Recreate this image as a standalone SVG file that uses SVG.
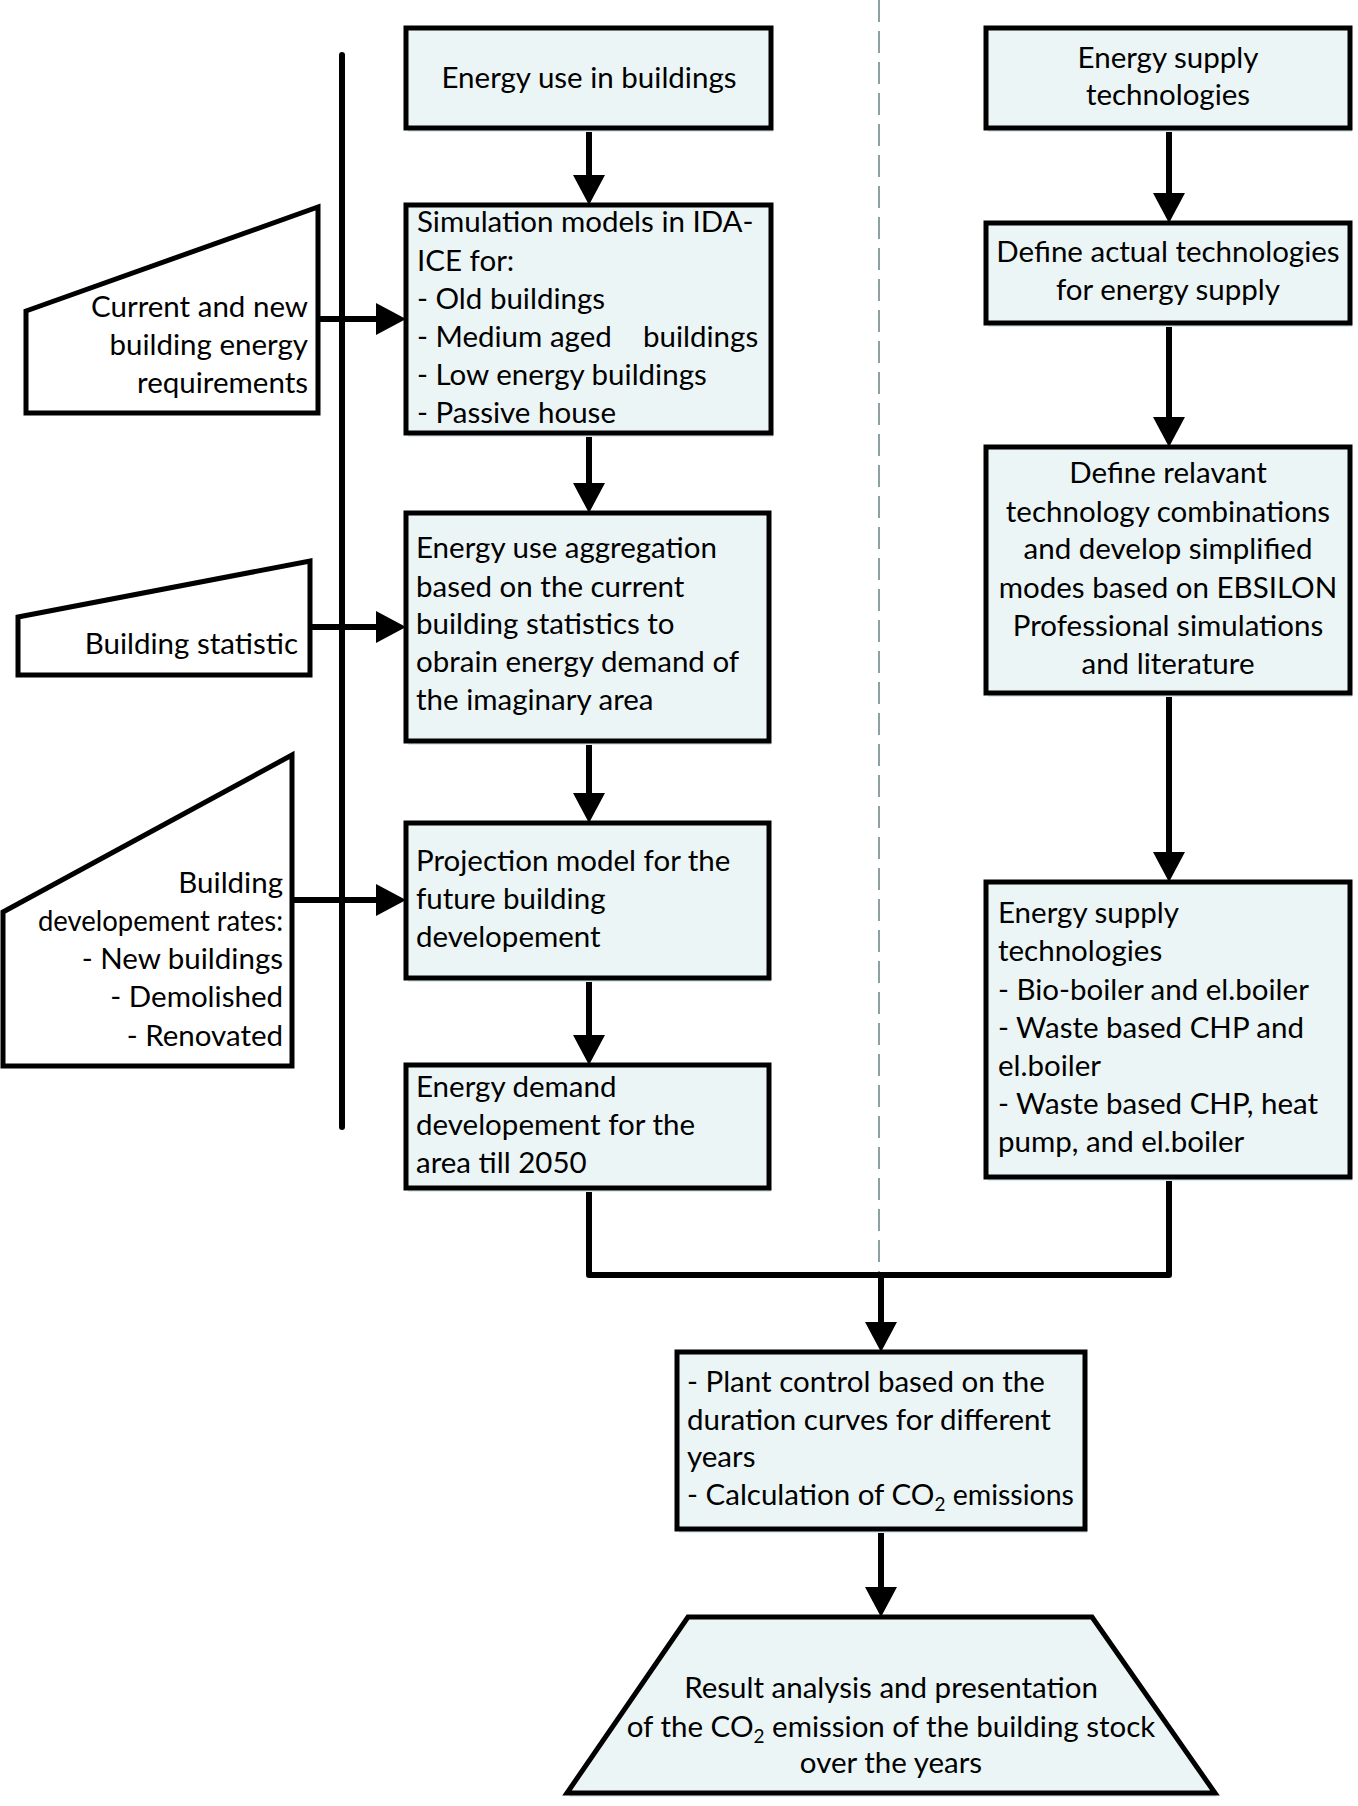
<svg xmlns="http://www.w3.org/2000/svg" width="1358" height="1806" viewBox="0 0 1358 1806">
<defs>
<style>
.box{fill:#ecf5f5;stroke:#000;stroke-width:5}
.sh{fill:#d8ecf0}
.inp{fill:#fff;stroke:#000;stroke-width:5}
.t{font-family:Lato,"Liberation Sans",sans-serif;font-size:29.5px;fill:#000}
.c{text-anchor:middle}
.r{text-anchor:end}
.ln{fill:none;stroke:#000;stroke-width:6}
.arr{marker-end:url(#ah)}
.dash{fill:none;stroke:#8fa0a2;stroke-width:2;stroke-dasharray:22 9}
</style>
<marker id="ah" markerUnits="userSpaceOnUse" viewBox="0 -16 30 32" refX="0" refY="0" markerWidth="30" markerHeight="32" orient="auto"><path d="M0,-16 L30,0 L0,16 z" fill="#000"/></marker>
</defs>
<rect width="1358" height="1806" fill="#fff"/>
<g id="connectors">
<path class="dash" d="M879,0 V1274"/>
<path class="ln" stroke-linecap="round" d="M342,55 V1127"/>
<path class="ln arr" d="M589,128 V175"/>
<path class="ln arr" d="M589,433 V483"/>
<path class="ln arr" d="M589,741 V793"/>
<path class="ln arr" d="M589,978 V1035"/>
<path class="ln" stroke-linejoin="round" d="M589,1188 V1275 H1169 V1177"/>
<path class="ln arr" d="M881,1275 V1322"/>
<path class="ln arr" d="M881,1529 V1587"/>
<path class="ln arr" d="M1169,128 V193"/>
<path class="ln arr" d="M1169,323 V417"/>
<path class="ln arr" d="M1169,693 V852"/>
<path class="ln arr" d="M318,319 H376"/>
<path class="ln arr" d="M310,627 H376"/>
<path class="ln arr" d="M292,900 H376"/>
</g>
<g id="energy-use">
<rect class="sh" x="408" y="32" width="365" height="100"/>
<rect class="box" x="406" y="28" width="365" height="100"/>
<text class="t c" x="589" y="88">Energy use in buildings</text>
</g>
<g id="simulation-models">
<rect class="sh" x="408" y="209" width="365" height="228"/>
<rect class="box" x="406" y="205" width="365" height="228"/>
<text class="t" x="417" y="232">Simulation models in IDA-</text>
<text class="t" x="417" y="271">ICE for:</text>
<text class="t" x="417" y="309">- Old buildings</text>
<text class="t" y="347"><tspan x="417">- Medium aged</tspan><tspan x="643">buildings</tspan></text>
<text class="t" x="417" y="385">- Low energy buildings</text>
<text class="t" x="417" y="423">- Passive house</text>
</g>
<g id="aggregation">
<rect class="sh" x="408" y="517" width="363" height="228"/>
<rect class="box" x="406" y="513" width="363" height="228"/>
<text class="t" x="416" y="558">Energy use aggregation</text>
<text class="t" x="416" y="597">based on the current</text>
<text class="t" x="416" y="634">building statistics to</text>
<text class="t" x="416" y="672">obrain energy demand of</text>
<text class="t" x="416" y="710">the imaginary area</text>
</g>
<g id="projection">
<rect class="sh" x="408" y="827" width="363" height="155"/>
<rect class="box" x="406" y="823" width="363" height="155"/>
<text class="t" x="416" y="871">Projection model for the</text>
<text class="t" x="416" y="909">future building</text>
<text class="t" x="416" y="947">developement</text>
</g>
<g id="demand">
<rect class="sh" x="408" y="1069" width="363" height="123"/>
<rect class="box" x="406" y="1065" width="363" height="123"/>
<text class="t" x="416" y="1097">Energy demand</text>
<text class="t" x="416" y="1135">developement for the</text>
<text class="t" x="416" y="1173">area till 2050</text>
</g>
<g id="input-requirements">
<polygon class="inp" points="26,311 318,207 318,413 26,413"/>
<text class="t r" x="308" y="317">Current and new</text>
<text class="t r" x="308" y="355">building energy</text>
<text class="t r" x="308" y="393">requirements</text>
</g>
<g id="input-statistic">
<polygon class="inp" points="18,617 310,561 310,675 18,675"/>
<text class="t r" x="298" y="654">Building statistic</text>
</g>
<g id="input-rates">
<polygon class="inp" points="3,912 292,755 292,1066 3,1066"/>
<text class="t r" x="283" y="893">Building</text>
<text class="t r" x="283" y="931" textLength="245" lengthAdjust="spacingAndGlyphs">developement rates:</text>
<text class="t r" x="283" y="969">- New buildings</text>
<text class="t r" x="283" y="1007">- Demolished</text>
<text class="t r" x="283" y="1046">- Renovated</text>
</g>
<g id="supply-tech">
<rect class="sh" x="988" y="32" width="364" height="100"/>
<rect class="box" x="986" y="28" width="364" height="100"/>
<text class="t c" x="1168" y="68">Energy supply</text>
<text class="t c" x="1168" y="105">technologies</text>
</g>
<g id="define-actual">
<rect class="sh" x="988" y="227" width="364" height="100"/>
<rect class="box" x="986" y="223" width="364" height="100"/>
<text class="t c" x="1168" y="262">Define actual technologies</text>
<text class="t c" x="1168" y="300">for energy supply</text>
</g>
<g id="define-relevant">
<rect class="sh" x="988" y="451" width="364" height="246"/>
<rect class="box" x="986" y="447" width="364" height="246"/>
<text class="t c" x="1168" y="483">Define relavant</text>
<text class="t c" x="1168" y="522">technology combinations</text>
<text class="t c" x="1168" y="559">and develop simplified</text>
<text class="t c" x="1168" y="598">modes based on EBSILON</text>
<text class="t c" x="1168" y="636">Professional simulations</text>
<text class="t c" x="1168" y="674">and literature</text>
</g>
<g id="supply-list">
<rect class="sh" x="988" y="886" width="364" height="295"/>
<rect class="box" x="986" y="882" width="364" height="295"/>
<text class="t" x="998" y="923">Energy supply</text>
<text class="t" x="998" y="961">technologies</text>
<text class="t" x="998" y="1000">- Bio-boiler and el.boiler</text>
<text class="t" x="998" y="1038">- Waste based CHP and</text>
<text class="t" x="998" y="1076">el.boiler</text>
<text class="t" x="998" y="1114">- Waste based CHP, heat</text>
<text class="t" x="998" y="1152">pump, and el.boiler</text>
</g>
<g id="plant-control">
<rect class="sh" x="679" y="1356" width="408" height="177"/>
<rect class="box" x="677" y="1352" width="408" height="177"/>
<text class="t" x="687" y="1392">- Plant control based on the</text>
<text class="t" x="687" y="1430">duration curves for different</text>
<text class="t" x="687" y="1467">years</text>
<text class="t" x="687" y="1505">- Calculation of CO<tspan font-size="19" dy="6">2</tspan><tspan dy="-6" font-size="28.5"> emissions</tspan></text>
</g>
<g id="result">
<polygon class="sh" points="690,1621 1094,1621 1217,1797 569,1797"/>
<polygon class="box" points="688,1617 1092,1617 1215,1793 567,1793"/>
<text class="t c" x="891" y="1698">Result analysis and presentation</text>
<text class="t c" x="891" y="1737">of the CO<tspan font-size="19" dy="6">2</tspan><tspan dy="-6"> emission of the building stock</tspan></text>
<text class="t c" x="891" y="1773">over the years</text>
</g>
</svg>
